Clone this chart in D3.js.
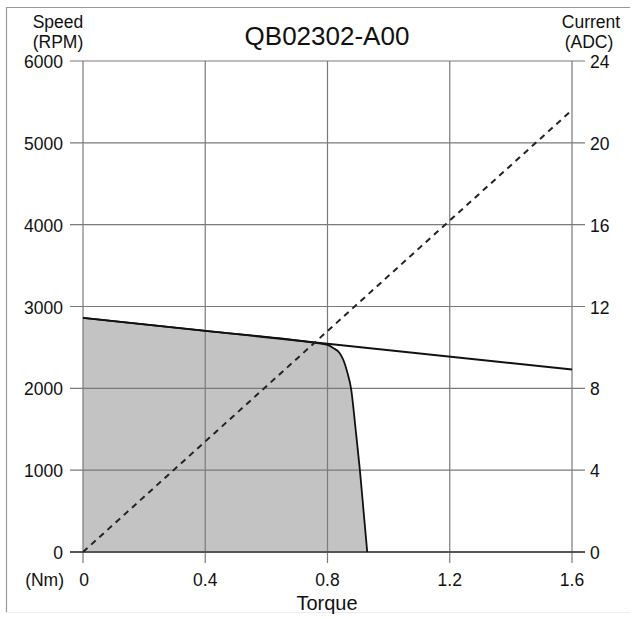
<!DOCTYPE html>
<html><head><meta charset="utf-8">
<script src="https://cdn.jsdelivr.net/npm/d3@7"></script>
<style>body{margin:0;background:#fff}svg{display:block;font-family:"Liberation Sans",Arial,sans-serif}</style>
</head><body><svg id="c" width="634" height="619"></svg>
<script>
const title = "QB02302-A00";
const torqueTicks = [0, 0.4, 0.8, 1.2, 1.6];
const speedTicks = [0, 1000, 2000, 3000, 4000, 5000, 6000];
const currentTicks = [0, 4, 8, 12, 16, 20, 24];
// Speed vs torque line (straight)
const speedLineTorque = [0, 1.6];
const speedLineRpm = [2860, 2230];
// Shaded operating envelope
const envTorque = [0, 0.4, 0.76, 0.80, 0.82, 0.84, 0.852, 0.866, 0.877, 0.892, 0.906, 0.918, 0.93];
const envRpm    = [2860, 2702, 2555, 2530, 2490, 2430, 2346, 2180, 2000, 1500, 1000, 500, 0];
// Current vs torque (dashed)
const currentTorque = [0, 1.6];
const currentAmps = [0, 21.6];

const svg = d3.select("#c");
const L = 83, R = 572, T = 61, B = 552;
const x = d3.scaleLinear().domain([0, 1.6]).range([L, R]);
const y = d3.scaleLinear().domain([0, 6000]).range([B, T]);
const y2 = d3.scaleLinear().domain([0, 24]).range([B, T]);

// frame
svg.append("path").attr("d", `M6.5,612 V7.5 H630`).attr("fill","none").attr("stroke","#999").attr("stroke-width",1.2);
svg.append("line").attr("x1",6).attr("x2",630).attr("y1",612.5).attr("y2",612.5).attr("stroke","#eee");

// area
const envData = envTorque.map((t,i)=>[t, envRpm[i]]);
svg.append("path").datum(envData)
  .attr("d", d3.area().x(d=>x(d[0])).y0(y(0)).y1(d=>y(d[1])).curve(d3.curveMonotoneX))
  .attr("fill","#c3c3c3");

// grid
const gridColor = "#7a7a7a";
svg.append("g").selectAll("line").data(torqueTicks).join("line")
  .attr("x1",d=>x(d)).attr("x2",d=>x(d)).attr("y1",T).attr("y2",B+11)
  .attr("stroke",gridColor).attr("stroke-width",1.2);
svg.append("g").selectAll("line").data(speedTicks).join("line")
  .attr("x1",L-13).attr("x2",R+13).attr("y1",d=>y(d)).attr("y2",d=>y(d))
  .attr("stroke",gridColor).attr("stroke-width",1.2);
// bottom axis line
svg.append("line").attr("x1",L-13).attr("x2",R+13).attr("y1",B).attr("y2",B).attr("stroke","#555").attr("stroke-width",2);

// envelope edge curve
svg.append("path").datum(envData)
  .attr("d", d3.line().x(d=>x(d[0])).y(d=>y(d[1])).curve(d3.curveMonotoneX))
  .attr("fill","none").attr("stroke","#111").attr("stroke-width",1.8);

// speed line
svg.append("path").datum(speedLineTorque.map((t,i)=>[t,speedLineRpm[i]]))
  .attr("d", d3.line().x(d=>x(d[0])).y(d=>y(d[1])))
  .attr("fill","none").attr("stroke","#111").attr("stroke-width",1.8);

// current dashed line
svg.append("path").datum(currentTorque.map((t,i)=>[t,currentAmps[i]]))
  .attr("d", d3.line().x(d=>x(d[0])).y(d=>y2(d[1])))
  .attr("fill","none").attr("stroke","#222").attr("stroke-width",2).attr("stroke-dasharray","6,5");

// tick labels
const fs = 17.5;
svg.append("g").selectAll("text").data(speedTicks).join("text")
  .attr("x",L-20).attr("y",d=>y(d)+1).attr("dy","0.35em").attr("text-anchor","end")
  .attr("font-size",fs).attr("fill","#111").text(d=>d);
svg.append("g").selectAll("text").data(currentTicks).join("text")
  .attr("x",R+18).attr("y",d=>y2(d)+1).attr("dy","0.35em").attr("text-anchor","start")
  .attr("font-size",fs).attr("fill","#111").text(d=>d);
svg.append("g").selectAll("text").data(torqueTicks).join("text")
  .attr("x",d=>x(d)+ (d===0?1:0)).attr("y",580).attr("dy","0.35em").attr("text-anchor","middle")
  .attr("font-size",fs).attr("fill","#111").text(d=>d===0?"0":d3.format(".1f")(d));

svg.append("text").attr("x",64).attr("y",580).attr("dy","0.35em").attr("text-anchor","end").attr("font-size",fs).attr("fill","#111").text("(Nm)");
svg.append("text").attr("x",327).attr("y",603).attr("dy","0.35em").attr("text-anchor","middle").attr("font-size",20).attr("fill","#111").text("Torque");

svg.append("text").attr("x",58).attr("y",22).attr("dy","0.35em").attr("text-anchor","middle").attr("font-size",fs).attr("fill","#111").text("Speed");
svg.append("text").attr("x",58).attr("y",42).attr("dy","0.35em").attr("text-anchor","middle").attr("font-size",fs).attr("fill","#111").text("(RPM)");
svg.append("text").attr("x",591).attr("y",22).attr("dy","0.35em").attr("text-anchor","middle").attr("font-size",fs).attr("fill","#111").text("Current");
svg.append("text").attr("x",589).attr("y",42).attr("dy","0.35em").attr("text-anchor","middle").attr("font-size",fs).attr("fill","#111").text("(ADC)");
svg.append("text").attr("x",327).attr("y",36).attr("dy","0.35em").attr("text-anchor","middle").attr("font-size",26).attr("fill","#111").text(title);
</script></body></html>
